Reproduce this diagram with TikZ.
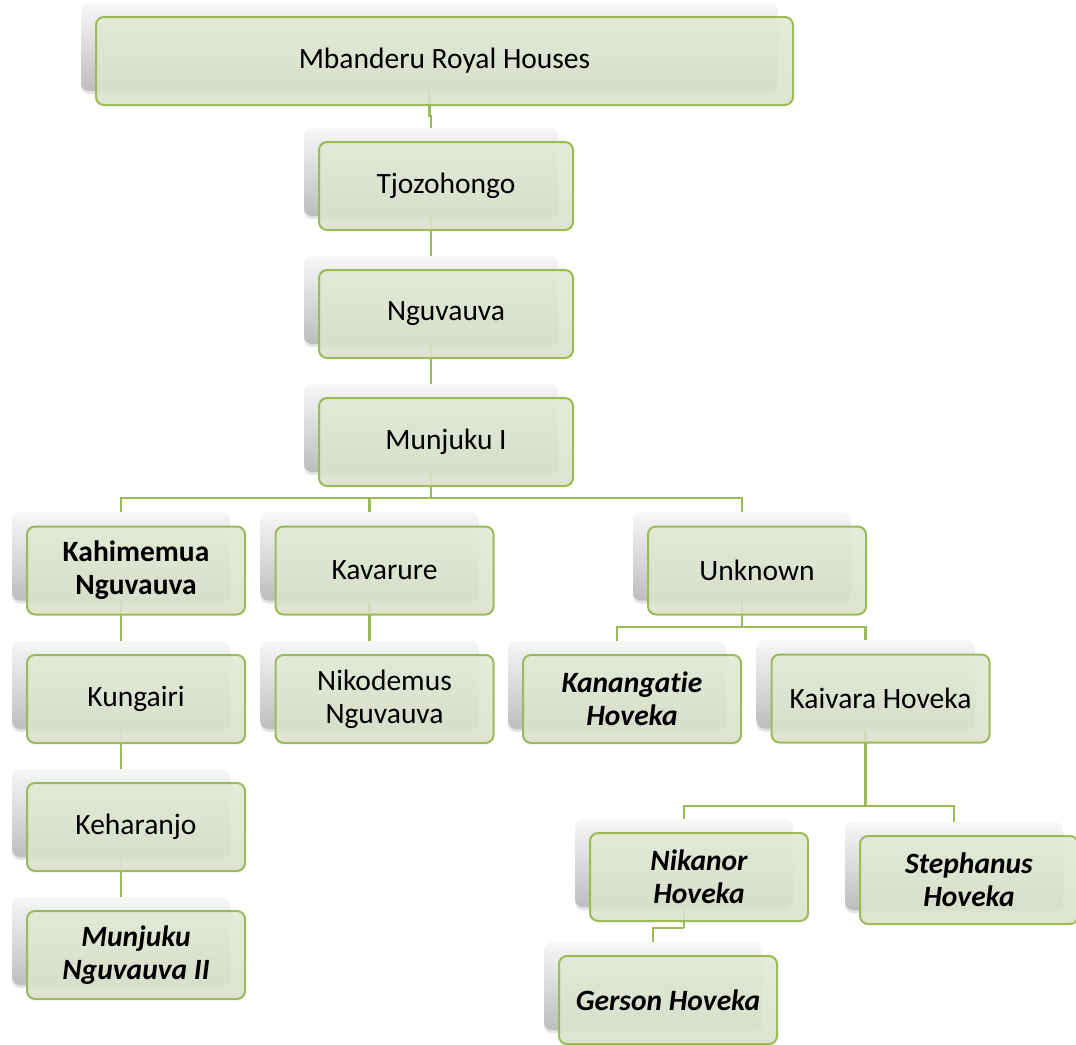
\documentclass[tikz,border=0pt]{standalone}
\usepackage{fontspec}
\setmainfont{Carlito}[Ligatures=CommonOff]
\usetikzlibrary{shadows}
\definecolor{grn}{HTML}{9BBB59}
\definecolor{fillA}{HTML}{E2E9D6}
\definecolor{fillB}{HTML}{D9E1CA}
\definecolor{shA}{HTML}{F7F7F7}
\definecolor{shM}{HTML}{EDEDED}
\definecolor{shB}{HTML}{BDBDBD}
\pgfdeclarelayer{shad}
\pgfdeclarelayer{conn}
\pgfsetlayers{shad,conn,main}
\tikzset{
  gbox/.style={draw=grn, line width=2pt, rounded corners=8pt,
    top color=fillA, bottom color=fillB, fill opacity=0.9, text opacity=1,
    minimum height=88pt, inner sep=0pt, align=center,
    font=\fontsize{29.5}{33}\selectfont},
  shbox/.style={rounded corners=8pt, top color=shA, middle color=shM, bottom color=shB,
    minimum height=88pt, inner sep=0pt,
    drop shadow={opacity=0.22, shadow xshift=0pt, shadow yshift=-3pt}},
  conn/.style={draw=grn, line width=2.3pt},
}
\newcommand\obox[5]{%
  \begin{pgfonlayer}{shad}
    \node[shbox, minimum width=#4pt] (#1-s) at (#2-15,#3-14) {};
  \end{pgfonlayer}
  \node[gbox, minimum width=#4pt] (#1) at (#2,#3) {#5};
}
\begin{document}
\begin{tikzpicture}[x=1pt,y=-1pt]
\useasboundingbox (0,0) rectangle (1076,1044);
\obox{mb}{444.5}{61}{697}{Mbanderu Royal Houses}
\obox{tj}{446}{186}{254}{Tjozohongo}
\obox{ng}{446}{314}{254}{Nguvauva}
\obox{mu}{446}{442}{254}{Munjuku I}
\obox{ka}{136}{570.5}{218}{\bfseries Kahimemua\\\bfseries Nguvauva}
\obox{kv}{384.5}{570.5}{218}{Kavarure}
\obox{un}{757}{570.5}{218}{Unknown}
\obox{kg}{136}{699}{218}{Kungairi}
\obox{ni}{384.5}{699}{218}{Nikodemus\\Nguvauva}
\obox{kn}{632}{699}{218}{\bfseries\itshape Kanangatie\\\bfseries\itshape Hoveka}
\obox{kh}{880.5}{698.5}{218}{Kaivara Hoveka}
\obox{ke}{136}{827}{218}{Keharanjo}
\obox{mn}{136}{955}{218}{\bfseries\itshape Munjuku\\\bfseries\itshape Nguvauva II}
\obox{nk}{699}{877}{218}{\bfseries\itshape Nikanor\\\bfseries\itshape Hoveka}
\obox{st}{969}{880}{218}{\bfseries\itshape Stephanus\\\bfseries\itshape Hoveka}
\obox{ge}{668}{1000}{218}{\bfseries\itshape Gerson Hoveka}
\coordinate (bus1) at (431,498);
\coordinate (bus2) at (742,627);
\coordinate (bus3) at (865.5,806);
\coordinate (bus4) at (684,928);
\begin{pgfonlayer}{conn}
  \draw[conn] (mb-s.south) -- ++(0,25) -| (tj-s.north);
  \draw[conn] (tj-s.south) -- (ng-s.north);
  \draw[conn] (ng-s.south) -- (mu-s.north);
  \draw[conn] (mu-s.south) -- (bus1);
  \draw[conn] (ka-s.north) |- (bus1);
  \draw[conn] (kv-s.north) |- (bus1);
  \draw[conn] (un-s.north) |- (bus1);
  \draw[conn] (ka-s.south) -- (kg-s.north);
  \draw[conn] (kg-s.south) -- (ke-s.north);
  \draw[conn] (ke-s.south) -- (mn-s.north);
  \draw[conn] (kv-s.south) -- (ni-s.north);
  \draw[conn] (un-s.south) -- (bus2);
  \draw[conn] (kn-s.north) |- (bus2);
  \draw[conn] (kh-s.north) |- (bus2);
  \draw[conn] (kh-s.south) -- (bus3);
  \draw[conn] (nk-s.north) |- (bus3);
  \draw[conn] (st-s.north) |- (bus3);
  \draw[conn] (nk-s.south) -- (bus4);
  \draw[conn] (ge-s.north) |- (bus4);
\end{pgfonlayer}
\end{tikzpicture}
\end{document}
